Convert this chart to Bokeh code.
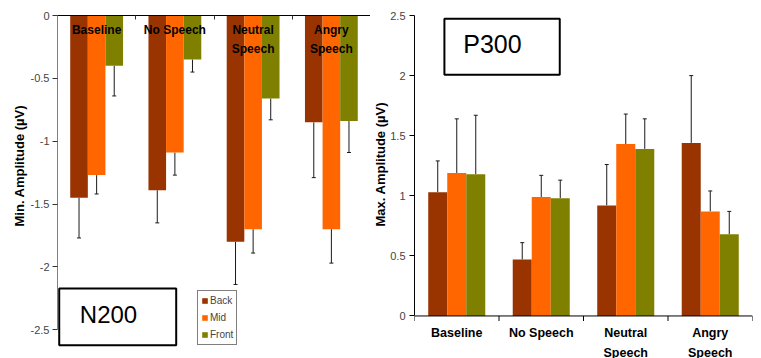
from bokeh.plotting import figure
from bokeh.models import (ColumnDataSource, Range1d, LinearAxis, FixedTicker, Whisker, TeeHead,
                          Legend, LegendItem, BoxAnnotation, Label, Span, Title)
from bokeh.layouts import row
from bokeh.embed import file_html
from bokeh.resources import INLINE
from bokeh.core.properties import value

# ---------------- data ----------------
categories = ["Baseline", "No Speech", "Neutral Speech", "Angry Speech"]
tick_labels = ["Baseline", "No Speech", "Neutral\nSpeech", "Angry\nSpeech"]
series = ["Back", "Mid", "Front"]

n200_back = [-1.45, -1.39, -1.80, -0.85]
n200_mid = [-1.27, -1.09, -1.70, -1.70]
n200_front = [-0.40, -0.35, -0.66, -0.84]
n200_back_err = [0.32, 0.26, 0.34, 0.44]
n200_mid_err = [0.15, 0.18, 0.19, 0.27]
n200_front_err = [0.24, 0.10, 0.17, 0.25]

p300_back = [1.03, 0.47, 0.92, 1.44]
p300_mid = [1.19, 0.99, 1.43, 0.87]
p300_front = [1.18, 0.98, 1.39, 0.68]
p300_back_err = [0.26, 0.14, 0.34, 0.56]
p300_mid_err = [0.45, 0.18, 0.25, 0.17]
p300_front_err = [0.49, 0.15, 0.25, 0.19]

n200_ticks = [0, -0.5, -1, -1.5, -2, -2.5]
p300_ticks = [0, 0.5, 1, 1.5, 2, 2.5]
n200_ylabel = "Min. Amplitude (µV)"
p300_ylabel = "Max. Amplitude (µV)"

# ---------------- styles ----------------
FONT = "Liberation Sans"
colors = ["#993300", "#FF6600", "#808000"]
ERR_COLOR = "#1a1a1a"
BW = 0.225
offsets = [-BW, 0.0, BW]
xs = [i + 0.5 for i in range(len(categories))]
bounds_x = list(range(len(categories) + 1))


def add_bars(p, vals_list, errs_list, sign):
    rs = []
    for vals, errs, off, col in zip(vals_list, errs_list, offsets, colors):
        x = [c + off for c in xs]
        ends = [v + sign * e for v, e in zip(vals, errs)]
        src = ColumnDataSource(dict(x=x, top=vals,
                                    lo=[min(v, e) for v, e in zip(vals, ends)],
                                    hi=[max(v, e) for v, e in zip(vals, ends)]))
        r = p.vbar(x="x", top="top", bottom=0, width=BW, source=src,
                   fill_color=col, line_color=None)
        head = TeeHead(size=4, line_color=ERR_COLOR, line_width=1)
        w = Whisker(source=src, base="x", lower="lo", upper="hi", dimension="height",
                    line_color=ERR_COLOR, line_width=1,
                    upper_head=head if sign > 0 else None,
                    lower_head=head if sign < 0 else None)
        p.add_layout(w)
        rs.append(r)
    return rs


def style_yaxis(ax, ticks, standoff):
    ax.ticker = FixedTicker(ticks=ticks)
    ax.major_label_overrides = {float(t): f"{t:g}" for t in ticks}
    ax.major_label_text_font = FONT
    ax.major_label_text_font_size = "11px"
    ax.major_label_standoff = standoff
    ax.major_tick_out = 5
    ax.major_tick_in = 0
    ax.minor_tick_out = 0
    ax.minor_tick_in = 0


def ylabel(p, text, standoff):
    p.add_layout(Title(text=text, align="left", offset=132, standoff=standoff,
                       text_font=FONT, text_font_style="bold", text_font_size="13px",
                       text_color="black"), "left")


# ---------------- left: N200 ----------------
p1 = figure(width=370, height=358, x_range=Range1d(0, 4), y_range=Range1d(-2.729, 0),
            output_backend="svg", toolbar_location=None,
            x_axis_location=None, y_axis_location=None,
            min_border_left=57, min_border_right=0, min_border_top=13, min_border_bottom=0,
            background_fill_color="white", border_fill_color="white")
p1.outline_line_color = None
p1.grid.visible = False

top_ax = LinearAxis(ticker=FixedTicker(ticks=bounds_x),
                    major_label_overrides={float(b): "" for b in bounds_x},
                    major_label_text_font_size="1px", major_label_standoff=0,
                    major_tick_in=4, major_tick_out=0, minor_tick_in=0, minor_tick_out=0,
                    axis_line_color="black", major_tick_line_color="#333333")
p1.add_layout(top_ax, "above")

ly = LinearAxis(bounds=(-2.5, 0), axis_line_color="#808080", major_tick_line_color="#333333")
style_yaxis(ly, n200_ticks, 3)
p1.add_layout(ly, "left")
ylabel(p1, n200_ylabel, 1)

rs1 = add_bars(p1, [n200_back, n200_mid, n200_front],
               [n200_back_err, n200_mid_err, n200_front_err], -1)

p1.text(x=xs, y=-0.063, text=tick_labels, text_font=value(FONT), text_font_style="bold",
        text_font_size="12px", text_align="center", text_baseline="top",
        text_line_height=1.3, text_color="black")

p1.add_layout(BoxAnnotation(left=0.022, right=1.517, top=-2.173, bottom=-2.624,
                            fill_color="white", fill_alpha=1.0,
                            line_color="black", line_width=2, line_alpha=1.0))
p1.add_layout(Label(x=0.652, y=-2.381, text="N200", text_font=FONT, text_font_size="24px",
                    text_align="center", text_baseline="middle", text_color="black"))

legend = Legend(items=[LegendItem(label=s, renderers=[r]) for s, r in zip(series, rs1)],
                location=(140, 13), label_text_font=FONT, label_text_font_size="10px",
                label_height=13, glyph_height=7, glyph_width=7, spacing=4, padding=3,
                margin=0, label_standoff=2, border_line_color="black", border_line_width=1,
                background_fill_color="white", background_fill_alpha=1.0)
p1.add_layout(legend)

# ---------------- right: P300 ----------------
p2 = figure(width=391, height=358, x_range=Range1d(0, 4), y_range=Range1d(-0.354, 2.5),
            output_backend="svg", toolbar_location=None,
            x_axis_location=None, y_axis_location=None,
            min_border_left=40, min_border_right=9, min_border_top=15, min_border_bottom=0,
            background_fill_color="white", border_fill_color="white")
p2.outline_line_color = None
p2.grid.visible = False

ry = LinearAxis(bounds=(0, 2.5), axis_line_color="black", major_tick_line_color="black")
style_yaxis(ry, p300_ticks, 4)
p2.add_layout(ry, "left")
ylabel(p2, p300_ylabel, 0)

add_bars(p2, [p300_back, p300_mid, p300_front],
         [p300_back_err, p300_mid_err, p300_front_err], 1)

p2.add_layout(Span(location=0, dimension="width", line_color="black", line_width=1))
tick_src = ColumnDataSource(dict(b=bounds_x))
p2.segment(x0="b", y0=0, x1="b", y1=-0.042, source=tick_src, line_color="black", line_width=1)

p2.text(x=xs, y=-0.083, text=tick_labels, text_font=value(FONT), text_font_style="bold",
        text_font_size="12.5px", text_align="center", text_baseline="top",
        text_line_height=1.42, text_color="black")

p2.add_layout(BoxAnnotation(left=0.354, right=1.719, top=2.473, bottom=2.007,
                            fill_color="white", fill_alpha=1.0,
                            line_color="black", line_width=2, line_alpha=1.0))
p2.add_layout(Label(x=0.922, y=2.263, text="P300", text_font=FONT, text_font_size="25px",
                    text_align="center", text_baseline="middle", text_color="black"))

layout = row(p1, p2)
open("out.html", "w").write(file_html(layout, INLINE))
